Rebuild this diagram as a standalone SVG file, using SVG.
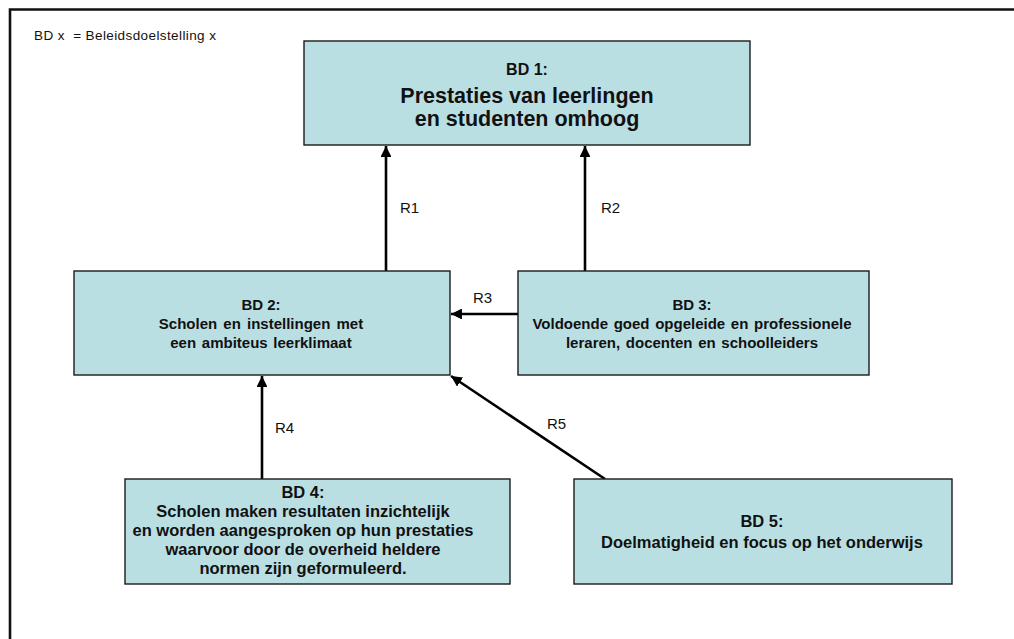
<svg xmlns="http://www.w3.org/2000/svg" width="1014" height="639" viewBox="0 0 1014 639">
<style>
.box{fill:#BADFE3;stroke:#1a1a1a;stroke-width:1.4}
.t{font-family:"Liberation Sans",Arial,sans-serif;font-weight:bold;fill:#111;text-anchor:middle}
.lbl{font-family:"Liberation Sans",Arial,sans-serif;font-size:15px;fill:#111}
.leg{font-family:"Liberation Sans",Arial,sans-serif;font-size:13.5px;fill:#111;letter-spacing:0.4px;white-space:pre}
.conn{stroke:#000;stroke-width:2.6;fill:none;marker-end:url(#ah)}
</style>
<defs>
<marker id="ah" viewBox="0 0 10 10" refX="10" refY="5" markerWidth="4.2" markerHeight="4.2" orient="auto" markerUnits="strokeWidth">
<path d="M0,0 L10,5 L0,10 z" fill="#000"/>
</marker>
</defs>
<rect width="1014" height="639" fill="#fff"/>
<path d="M10,640 L10,9.5 L1015,9.5" fill="none" stroke="#111" stroke-width="2.6"/>
<text class="leg" x="34" y="40" xml:space="preserve">BD x  = Beleidsdoelstelling x</text>
<g id="connectors">
<line class="conn" x1="386" y1="271" x2="386" y2="146"/>
<line class="conn" x1="585" y1="271" x2="585" y2="146"/>
<line class="conn" x1="518" y1="314" x2="451" y2="314"/>
<line class="conn" x1="262" y1="479" x2="262" y2="376"/>
<line class="conn" x1="605" y1="479" x2="451" y2="376"/>
<text class="lbl" x="400" y="213">R1</text>
<text class="lbl" x="601" y="213">R2</text>
<text class="lbl" x="473" y="303">R3</text>
<text class="lbl" x="275" y="433">R4</text>
<text class="lbl" x="547" y="429">R5</text>
</g>
<g id="bd1">
<rect class="box" x="304" y="41" width="446" height="104"/>
<text class="t" x="527" y="75" font-size="16">BD 1:</text>
<text class="t" x="527" y="103" font-size="21.5">Prestaties van leerlingen</text>
<text class="t" x="527" y="126" font-size="21.5">en studenten omhoog</text>
</g>
<g id="bd2">
<rect class="box" x="74" y="271" width="376" height="104"/>
<text class="t" x="261" y="310" font-size="15">BD 2:</text>
<text class="t" x="261" y="329" font-size="15" word-spacing="2">Scholen en instellingen met</text>
<text class="t" x="261" y="348" font-size="15" word-spacing="1.5">een ambiteus leerklimaat</text>
</g>
<g id="bd3">
<rect class="box" x="518" y="271" width="351" height="104"/>
<text class="t" x="692" y="310" font-size="15">BD 3:</text>
<text class="t" x="692" y="329" font-size="15" word-spacing="1.5">Voldoende goed opgeleide en professionele</text>
<text class="t" x="692" y="348" font-size="15" word-spacing="1.5">leraren, docenten en schoolleiders</text>
</g>
<g id="bd4">
<rect class="box" x="125" y="479" width="385" height="105"/>
<text class="t" x="303" y="498" font-size="16.5">BD 4:</text>
<text class="t" x="303" y="517" font-size="16.5">Scholen maken resultaten inzichtelijk</text>
<text class="t" x="303" y="536" font-size="16.5">en worden aangesproken op hun prestaties</text>
<text class="t" x="303" y="555" font-size="16.5">waarvoor door de overheid heldere</text>
<text class="t" x="303" y="574" font-size="16.5">normen zijn geformuleerd.</text>
</g>
<g id="bd5">
<rect class="box" x="574" y="479" width="378" height="105"/>
<text class="t" x="762" y="527" font-size="16.5">BD 5:</text>
<text class="t" x="762" y="548" font-size="16.5">Doelmatigheid en focus op het onderwijs</text>
</g>
</svg>
